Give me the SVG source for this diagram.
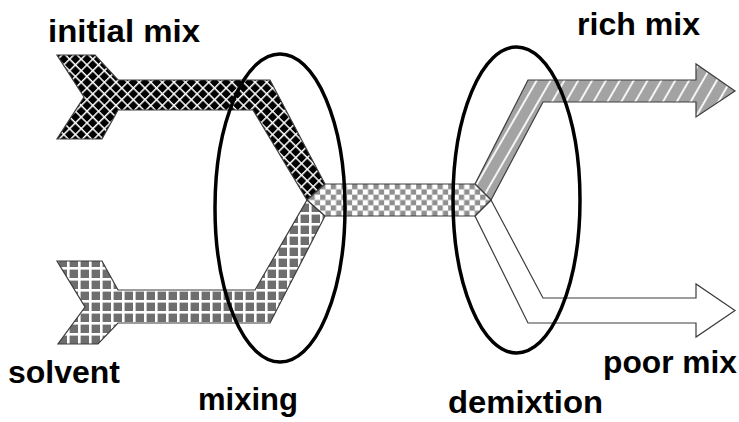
<svg xmlns="http://www.w3.org/2000/svg" width="739" height="422" viewBox="0 0 739 422">
  <defs>
    <pattern id="pDiamond" patternUnits="userSpaceOnUse" width="8.2" height="8.2" patternTransform="rotate(45)">
      <rect width="8.2" height="8.2" fill="#000"/>
      <rect width="8.2" height="1.5" fill="#fff"/>
      <rect width="1.5" height="8.2" fill="#fff"/>
    </pattern>
    <pattern id="pGrid" patternUnits="userSpaceOnUse" x="1" y="289" width="11" height="11">
      <rect width="11" height="11" fill="#6e6e6e"/>
      <rect width="11" height="2.6" fill="#fff"/>
      <rect width="2.6" height="11" fill="#fff"/>
    </pattern>
    <pattern id="pChecker" patternUnits="userSpaceOnUse" x="0" y="184" width="10.67" height="10.67">
      <rect width="10.67" height="10.67" fill="#fff"/>
      <rect width="5.33" height="5.33" fill="#8f8f8f"/>
      <rect x="5.33" y="5.33" width="5.33" height="5.33" fill="#8f8f8f"/>
    </pattern>
    <pattern id="pStripe" patternUnits="userSpaceOnUse" width="12" height="12" patternTransform="rotate(30)">
      <rect width="12" height="12" fill="#a3a3a3"/>
      <rect width="2" height="12" fill="#f4f4f4"/>
    </pattern>
  </defs>
  <style>
    .flow { stroke: #3c3c3c; stroke-width: 1.2; stroke-linejoin: miter; }
    .ring { fill: none; stroke: #000; stroke-width: 3.5; }
    .lbl { font-family: "Liberation Sans", Arial, sans-serif; font-weight: bold; font-size: 32px; fill: #000; }
  </style>

  <g id="connectors">
    <g id="initial-mix-flow">
      <polygon class="flow" fill="url(#pDiamond)" points="57,55 95,55 118,80 270,80 325,184 307,200 253,110 118,110 102,139 57,139 84,97"/>
    </g>
    <g id="solvent-flow">
      <polygon class="flow" fill="url(#pGrid)" points="57,261 102,261 118,290 255,290 307,200 325,216 270,323 118,323 98,344 58,344 85,307"/>
    </g>
    <g id="rich-mix-flow">
      <polygon class="flow" fill="url(#pStripe)" points="475,184 528,80 696,80 696,64 735,91 696,117 696,102 543,102 491,200"/>
    </g>
    <g id="poor-mix-flow">
      <polygon class="flow" fill="#fff" points="491,200 543,298 696,298 696,284 735,310.5 696,337 696,323 528,323 475,216"/>
    </g>
    <g id="mixed-flow">
      <polygon class="flow" fill="url(#pChecker)" points="307,200 325,184 475,184 491,200 475,216 325,216"/>
    </g>
  </g>

  <g id="mixing">
    <ellipse class="ring" cx="280" cy="208" rx="65" ry="154"/>
    <text class="lbl" x="198" y="410" textLength="100" lengthAdjust="spacingAndGlyphs">mixing</text>
  </g>
  <g id="demixtion">
    <ellipse class="ring" cx="516.5" cy="200" rx="63.5" ry="153"/>
    <text class="lbl" x="448" y="413" textLength="155" lengthAdjust="spacingAndGlyphs">demixtion</text>
  </g>

  <g id="initial-mix">
    <text class="lbl" x="48" y="42" textLength="152" lengthAdjust="spacingAndGlyphs">initial mix</text>
  </g>
  <g id="solvent">
    <text class="lbl" x="8" y="383" textLength="112" lengthAdjust="spacingAndGlyphs">solvent</text>
  </g>
  <g id="rich-mix">
    <text class="lbl" x="577" y="35" textLength="123" lengthAdjust="spacingAndGlyphs">rich mix</text>
  </g>
  <g id="poor-mix">
    <text class="lbl" x="603" y="373" textLength="134" lengthAdjust="spacingAndGlyphs">poor mix</text>
  </g>
</svg>
